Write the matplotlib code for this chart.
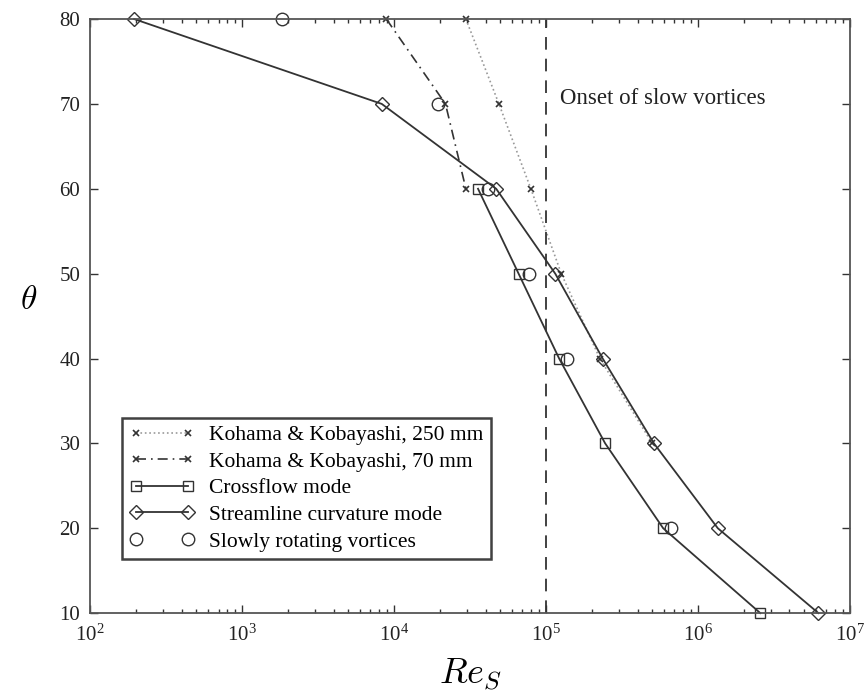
import numpy as np
import matplotlib
matplotlib.use("Agg")
import matplotlib.pyplot as plt

plt.rcParams['font.family'] = ['Liberation Serif', 'DejaVu Serif']
plt.rcParams['mathtext.fontset'] = 'cm'

# data
theta_km250 = [80, 70, 60, 50, 40, 30]
re_km250 = [2.97e4, 4.9e4, 7.95e4, 1.26e5, 2.26e5, 5.0e5]

theta_km70 = [80, 70, 60]
re_km70 = [8.9e3, 2.18e4, 2.97e4]

theta_cross = [60, 50, 40, 30, 20, 10]
re_cross = [3.57e4, 6.6e4, 1.22e5, 2.45e5, 5.9e5, 2.57e6]

theta_stream = [80, 70, 60, 50, 40, 30, 20, 10]
re_stream = [1.95e2, 8.3e3, 4.7e4, 1.15e5, 2.36e5, 5.13e5, 1.35e6, 6.2e6]

theta_slow = [80, 70, 60, 50, 40, 20]
re_slow = [1.83e3, 1.94e4, 4.15e4, 7.75e4, 1.38e5, 6.6e5]

onset_re = 1e5

ink = '#333333'

fig = plt.figure(figsize=(8.66, 6.92), dpi=100)
ax = fig.add_axes([0.104, 0.114, 0.8775, 0.8585])

ax.plot(re_km250, theta_km250, linestyle=':', color='#999999', lw=1.2,
        marker='x', ms=5, mec=ink, mew=1.2, clip_on=False,
        label='Kohama & Kobayashi, 250 mm')
ax.plot(re_km70, theta_km70, linestyle=(0, (6, 3, 1, 3)), color=ink, lw=1.2,
        marker='x', ms=5, mec=ink, mew=1.2, clip_on=False,
        label='Kohama & Kobayashi, 70 mm')
ax.plot(re_cross, theta_cross, '-', color=ink, lw=1.3, clip_on=False,
        marker='s', ms=7, mfc='none', mec=ink, mew=1.0, label='Crossflow mode')
ax.plot(re_stream, theta_stream, '-', color=ink, lw=1.3, clip_on=False,
        marker='D', ms=7, mfc='none', mec=ink, mew=1.0, label='Streamline curvature mode')
ax.plot(re_slow, theta_slow, linestyle='none', clip_on=False,
        marker='o', ms=9, mfc='none', mec=ink, mew=1.0, label='Slowly rotating vortices')

ax.axvline(onset_re, color=ink, lw=1.3, linestyle=(0, (7, 5)))
ax.text(1.23e5, 70.6, 'Onset of slow vortices', fontsize=16.5, color='#222222',
        ha='left', va='center')

ax.set_xscale('log')
ax.set_xlim(1e2, 1e7)
ax.set_ylim(10, 80)
ax.set_yticks(np.arange(10, 81, 10))
ax.tick_params(which='both', direction='in', top=True, right=True,
               labelsize=15, colors=ink, labelcolor='#222222')
ax.tick_params(which='major', length=6, width=1)
ax.tick_params(which='minor', length=3, width=1)
ax.tick_params(axis='x', pad=8)
ax.tick_params(axis='y', pad=7)
for s in ax.spines.values():
    s.set_color('#555555')
    s.set_linewidth(1.3)

ax.set_xlabel(r'$Re_S$', fontsize=26, labelpad=8)
ax.set_ylabel(r'$\theta$', fontsize=24, rotation=0, labelpad=22)

leg = ax.legend(loc='lower left', bbox_to_anchor=(0.042, 0.091), numpoints=2,
                fontsize=15.5, frameon=True, fancybox=False, edgecolor='#111111',
                handlelength=3.0, handletextpad=0.7, borderpad=0.35,
                labelspacing=0.3, borderaxespad=0)
leg.get_frame().set_linewidth(1.8)

fig.savefig('out.png', dpi=100)
